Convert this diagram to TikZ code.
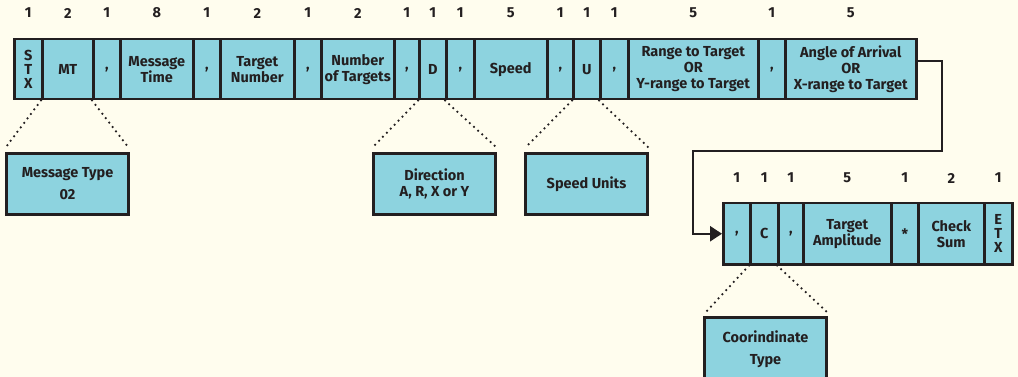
\documentclass[tikz,border=0pt]{standalone}
\usepackage{fontspec}
\setmainfont{Fira Sans}
\usetikzlibrary{arrows.meta,calc}
\definecolor{bg}{HTML}{FFFDEE}
\definecolor{cell}{HTML}{8DD3DF}
\definecolor{ink}{HTML}{231F20}
\tikzset{
  field/.style={draw=ink, fill=cell, line width=2.5pt, inner sep=0pt, anchor=north west,
    align=center, text=ink, font=\bfseries\fontsize{14.5}{16}\selectfont},
  num/.style={text=ink, inner sep=0pt, font=\bfseries\fontsize{14.5}{16}\selectfont},
  callout/.style={draw=ink, fill=cell, line width=3pt, inner sep=0pt, anchor=north west,
    align=center, text=ink, font=\bfseries\fontsize{14.5}{16}\selectfont},
  dots/.style={draw=ink, line width=2.5pt, line cap=round, dash pattern=on 0pt off 5.6pt},
  link/.style={draw=ink, line width=2.5pt, -{Triangle[length=12pt,width=15pt]}},
}
\newcommand\fieldbox[6]{\node[field, minimum width=#4pt, minimum height=#5pt] (#1) at (#2,#3) {#6};}
\newcommand\calloutbox[6]{\node[callout, minimum width=#4pt, minimum height=#5pt] (#1) at (#2,#3) {#6};}
\begin{document}
\begin{tikzpicture}[x=1pt,y=-1pt]
\useasboundingbox[fill=bg] (0,0) rectangle (1018,377);
\coordinate (nrow) at (0,13);
\coordinate (mrow) at (0,178);
% top row
\fieldbox{f1}{13}{38}{28}{60}{S\\[-2pt]T\\[-2pt]X}
\fieldbox{f2}{41}{38}{51}{60}{MT}
\fieldbox{f3}{92}{38}{27}{60}{,}
\fieldbox{f4}{119}{38}{73}{60}{Message\\Time}
\fieldbox{f5}{192}{38}{27}{60}{,}
\fieldbox{f6}{219}{38}{74}{60}{Target\\Number}
\fieldbox{f7}{293}{38}{27}{60}{,}
\fieldbox{f8}{320}{38}{73}{60}{Number\\of Targets}
\fieldbox{f9}{393}{38}{25}{60}{,}
\fieldbox{f10}{418}{38}{27}{60}{D}
\fieldbox{f11}{445}{38}{28}{60}{,}
\fieldbox{f12}{473}{38}{73}{60}{Speed}
\fieldbox{f13}{546}{38}{26}{60}{,}
\fieldbox{f14}{572}{38}{27}{60}{U}
\fieldbox{f15}{599}{38}{28}{60}{,}
\fieldbox{f16}{627}{38}{130}{60}{Range to Target\\OR\\Y-range to Target}
\fieldbox{f17}{757}{38}{27}{60}{,}
\fieldbox{f18}{784}{38}{131}{60}{Angle of Arrival\\OR\\X-range to Target}
\foreach \n/\v in {f1/1,f2/2,f3/1,f4/8,f5/1,f6/2,f7/1,f8/2,f9/1,f10/1,f11/1,f12/5,f13/1,f14/1,f15/1,f16/5,f17/1,f18/5}
  \node[num] (n\n) at (\n |- nrow) {\v};
% bottom row
\fieldbox{g1}{722}{202}{27}{61}{,}
\fieldbox{g2}{749}{202}{28}{61}{C}
\fieldbox{g3}{777}{202}{25}{61}{,}
\fieldbox{g4}{802}{202}{88}{61}{Target\\Amplitude}
\fieldbox{g5}{890}{202}{27}{61}{*}
\fieldbox{g6}{917}{202}{66}{61}{Check\\Sum}
\fieldbox{g7}{983}{202}{28}{61}{E\\[-2pt]T\\[-2pt]X}
\foreach \n/\v in {g1/1,g2/1,g3/1,g4/5,g5/1,g6/2,g7/1}
  \node[num] (n\n) at (\n |- mrow) {\v};
% callouts
\calloutbox{cmt}{5}{152}{122}{61}{Message Type\\[6pt]02}
\calloutbox{cdir}{372}{152}{122}{61}{Direction\\A, R, X or Y}
\calloutbox{cunit}{524}{152}{122}{61}{Speed Units}
\calloutbox{ccoord}{703}{316}{122}{64}{Coorindinate\\[6pt]Type}
% dotted leaders
\draw[dots] (f2.south west) -- ($(cmt.north west)+(1,-5)$);
\draw[dots] (f3.south west) -- ($(cmt.north east)+(-2,-5)$);
\draw[dots] (f10.south west) -- ($(cdir.north west)+(1,-5)$);
\draw[dots] (f11.south west) -- ($(cdir.north east)+(-1,-5)$);
\draw[dots] (f14.south west) -- ($(cunit.north west)+(2,-5)$);
\draw[dots] (f15.south west) -- ($(cunit.north east)+(-1,-5)$);
\draw[dots] (g2.south west) -- ($(ccoord.north west)+(3,-4)$);
\draw[dots] (g3.south west) -- ($(ccoord.north east)+(-1,-4)$);
% continuation connector
\coordinate (t1) at (942,151);
\coordinate (t2) at (693,151);
\draw[link] ([yshift=8pt]f18.east) -| (t1) -- (t2) |- (g1.west);
\end{tikzpicture}
\end{document}
